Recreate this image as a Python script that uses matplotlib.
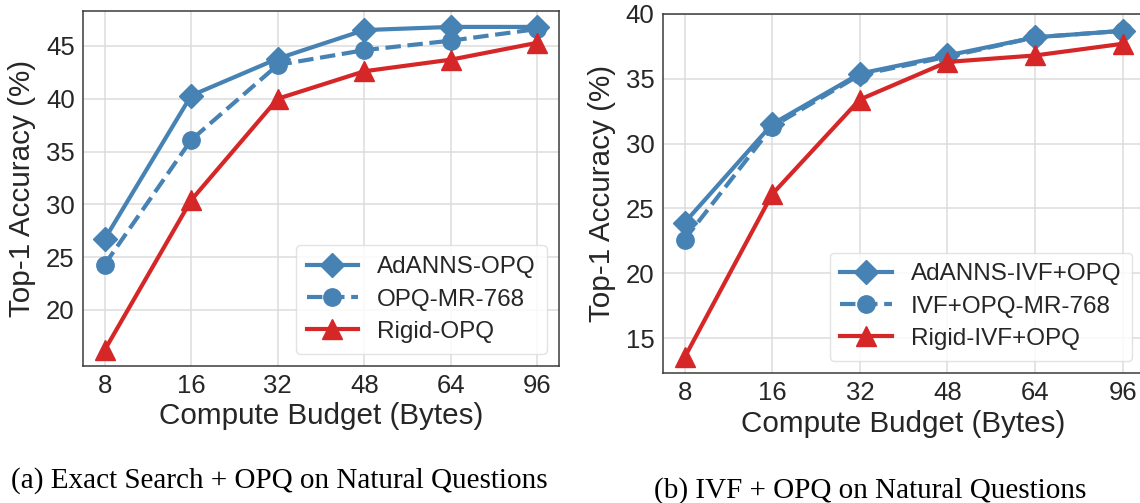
import matplotlib.pyplot as plt
import numpy as np

# compute budget in bytes (categorical x axis)
budgets = ['8', '16', '32', '48', '64', '96']

# (a) exact search + OPQ
adanns_opq = [26.7, 40.3, 43.8, 46.5, 46.8, 46.8]
opq_mr = [24.3, 36.1, 43.2, 44.6, 45.5, 46.6]
rigid_opq = [16.2, 30.4, 40.0, 42.6, 43.7, 45.3]

# (b) IVF + OPQ
adanns_ivf = [23.9, 31.5, 35.4, 36.8, 38.2, 38.7]
ivf_mr = [22.6, 31.3, 35.3, 36.7, 38.2, 38.7]
rigid_ivf = [13.5, 26.1, 33.4, 36.3, 36.8, 37.7]

blue = '#4682b4'
red = '#d62728'

plt.rcParams['font.family'] = ['Liberation Sans', 'DejaVu Sans']

fig = plt.figure(figsize=(11.4, 5.03), dpi=100)
ax1 = fig.add_axes([0.0728, 0.2724, 0.4176, 0.7056])
ax2 = fig.add_axes([0.5813, 0.2584, 0.4227, 0.7138])

x = np.arange(len(budgets))


def draw(ax, ada, mr, rig, names, ylim, yticks):
    ax.plot(x, ada, color=blue, lw=3, marker='D', ms=12.5, label=names[0], zorder=3)
    ax.plot(x, mr, color=blue, lw=3, ls='--', marker='o', ms=12.5, label=names[1], zorder=2)
    ax.plot(x, rig, color=red, lw=3, marker='^', ms=15, label=names[2], zorder=4)
    ax.set_xlim(-0.25, 5.25)
    ax.set_ylim(*ylim)
    ax.set_xticks(x)
    ax.set_xticklabels(budgets)
    ax.set_yticks(yticks)
    ax.tick_params(labelsize=18.5, length=0, pad=6, colors='#262626')
    ax.grid(True, color='#dcdcdc', lw=1.1)
    ax.set_axisbelow(True)
    for s in ax.spines.values():
        s.set_color('#3a3a3a')
        s.set_linewidth(1.1)
    ax.set_xlabel('Compute Budget (Bytes)', fontsize=21.3, color='#262626', labelpad=3)
    ax.set_ylabel('Top-1 Accuracy (%)', fontsize=21.3, color='#262626', labelpad=7)
    leg = ax.legend(loc='lower right', fontsize=17.5, handlelength=2.1,
                    framealpha=0.85, edgecolor='#dddddd', borderpad=0.45,
                    labelspacing=0.42, handletextpad=0.8)
    for t in leg.get_texts():
        t.set_color('#262626')


draw(ax1, adanns_opq, opq_mr, rigid_opq,
     ['AdANNS-OPQ', 'OPQ-MR-768', 'Rigid-OPQ'],
     (14.7, 48.3), [20, 25, 30, 35, 40, 45])
draw(ax2, adanns_ivf, ivf_mr, rigid_ivf,
     ['AdANNS-IVF+OPQ', 'IVF+OPQ-MR-768', 'Rigid-IVF+OPQ'],
     (12.3, 40.0), [15, 20, 25, 30, 35, 40])

fig.text(0.245, 0.045, '(a) Exact Search + OPQ on Natural Questions',
         family='Liberation Serif', fontsize=21, ha='center', va='center')
fig.text(0.763, 0.025, '(b) IVF + OPQ on Natural Questions',
         family='Liberation Serif', fontsize=21, ha='center', va='center')

fig.savefig('out.png', dpi=100)
